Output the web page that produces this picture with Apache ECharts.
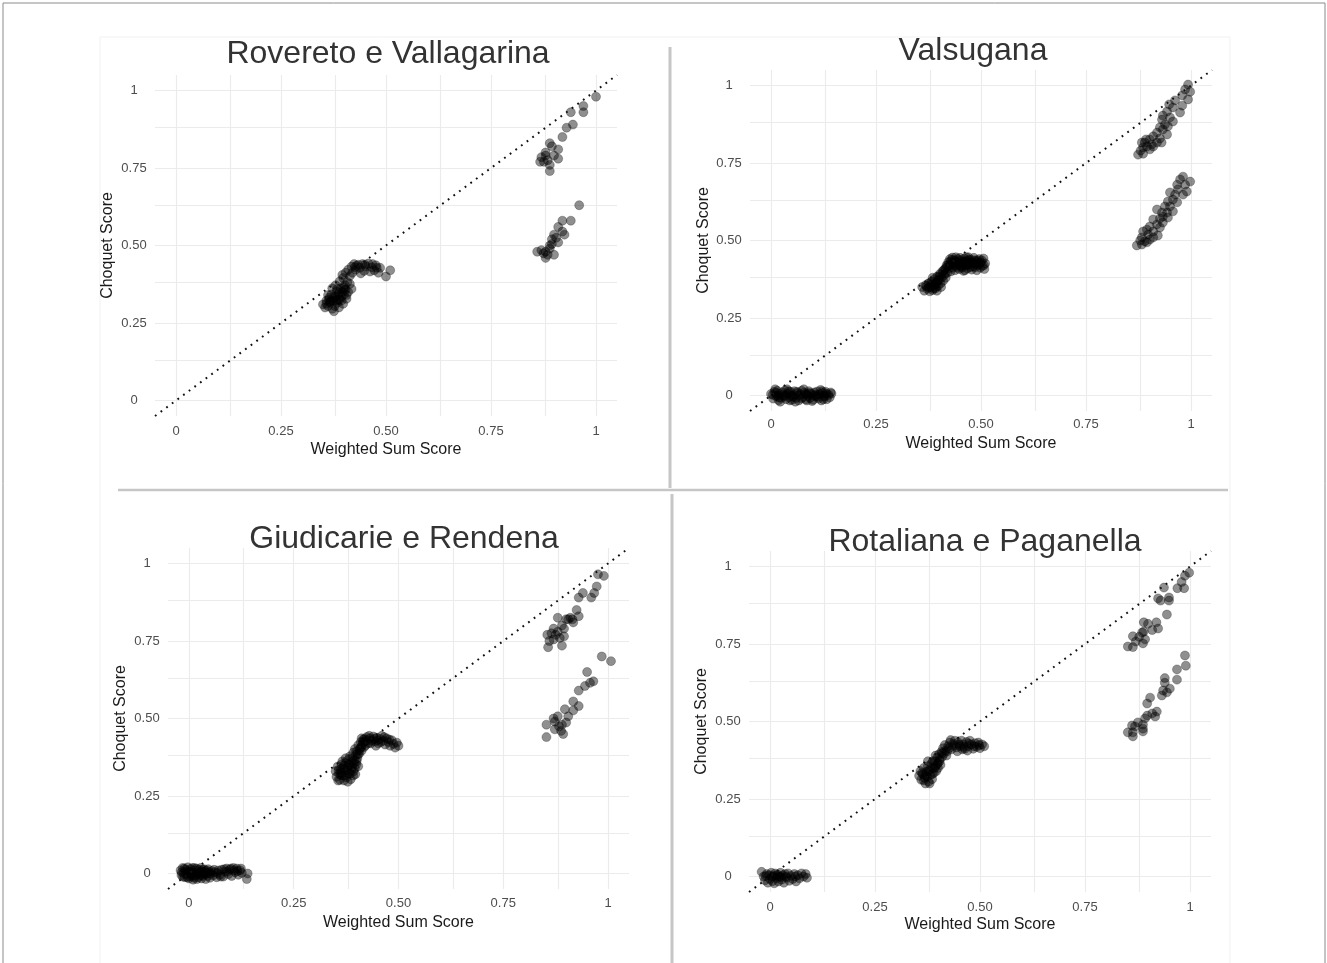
<!DOCTYPE html>
<html>
<head>
<meta charset="utf-8">
<script src="https://cdn.jsdelivr.net/npm/echarts@6/dist/echarts.min.js"></script>
<style>
html,body{margin:0;padding:0;background:#fff;}
#chart{width:1327px;height:963px;}
</style>
</head>
<body>
<div id="chart"></div>
<script>
// ---------- data ----------
const panelTitles = ['Rovereto e Vallagarina', 'Valsugana', 'Giudicarie e Rendena', 'Rotaliana e Paganella'];
const xAxisTitle = 'Weighted Sum Score';
const yAxisTitle = 'Choquet Score';
const majorTicks = [0, 0.25, 0.5, 0.75, 1];
const majorTickLabels = ['0', '0.25', '0.50', '0.75', '1'];
const minorTicks = [0.125, 0.375, 0.625, 0.875];
const diagonal = [[-0.05, -0.05], [1.05, 1.05]];

const rovereto = [
[0.350,0.310],[0.355,0.300],[0.358,0.322],[0.362,0.305],[0.365,0.332],[0.368,0.315],[0.370,0.342],[0.372,0.296],[0.375,0.322],[0.378,0.305],[0.380,0.335],[0.382,0.352],[0.384,0.315],[0.386,0.340],[0.388,0.300],[0.390,0.325],[0.392,0.362],[0.394,0.335],[0.396,0.350],[0.398,0.312],[0.400,0.342],[0.402,0.372],[0.404,0.358],[0.406,0.328],[0.408,0.382],[0.410,0.350],[0.362,0.340],[0.372,0.362],[0.380,0.372],[0.390,0.385],[0.398,0.395],[0.396,0.405],[0.404,0.412],[0.410,0.422],[0.414,0.402],[0.418,0.432],[0.420,0.412],[0.424,0.440],[0.428,0.422],[0.434,0.438],[0.438,0.428],[0.444,0.440],[0.448,0.418],[0.452,0.432],[0.458,0.442],[0.462,0.416],[0.466,0.430],[0.472,0.420],[0.476,0.436],[0.482,0.412],[0.486,0.428],[0.440,0.410],[0.430,0.435],[0.414,0.376],[0.418,0.360],[0.376,0.288],[0.366,0.318],[0.386,0.325],[0.400,0.365],[0.500,0.400],[0.510,0.420],
[0.358,0.312],[0.364,0.326],[0.370,0.322],[0.376,0.334],[0.382,0.322],[0.388,0.346],[0.394,0.322],[0.400,0.356],[0.406,0.340],[0.384,0.360],[0.426,0.430],[0.450,0.438],[0.468,0.440],[0.478,0.428],
[1.000,0.980],[0.970,0.950],[0.970,0.930],[0.940,0.930],[0.945,0.890],[0.930,0.880],[0.920,0.850],[0.890,0.830],[0.880,0.800],[0.910,0.810],[0.910,0.780],[0.867,0.770],[0.876,0.770],[0.890,0.760],[0.890,0.740],[0.900,0.790],[0.880,0.790],[0.895,0.820],[0.885,0.775],[0.870,0.785],
[0.960,0.630],[0.920,0.580],[0.940,0.580],[0.910,0.560],[0.920,0.545],[0.925,0.535],[0.900,0.535],[0.895,0.520],[0.890,0.500],[0.910,0.510],[0.860,0.480],[0.870,0.485],[0.880,0.480],[0.880,0.460],[0.900,0.470],[0.890,0.490],[0.895,0.505],[0.905,0.525],[0.885,0.470],[0.875,0.475]
];

const valsugana = [
[0.000,0.005],[0.005,-0.010],[0.008,0.012],[0.012,-0.002],[0.015,0.015],[0.018,-0.015],[0.020,0.004],[0.024,-0.008],[0.027,0.010],[0.030,-0.003],[0.033,0.016],[0.036,-0.012],[0.040,0.006],[0.043,-0.006],[0.046,0.012],[0.050,-0.014],[0.053,0.002],[0.056,0.014],[0.060,-0.008],[0.063,0.008],[0.066,-0.016],[0.070,0.003],[0.073,0.015],[0.076,-0.006],[0.080,0.010],[0.083,-0.012],[0.086,0.004],[0.090,0.014],[0.093,-0.008],[0.096,0.006],[0.100,-0.014],[0.103,0.010],[0.106,-0.003],[0.110,0.013],[0.113,-0.010],[0.116,0.004],[0.120,-0.016],[0.123,0.008],[0.126,-0.004],[0.130,0.012],[0.133,-0.012],[0.137,0.002],[0.140,-0.006],[0.144,0.006],[0.010,0.020],[0.022,-0.020],[0.038,0.020],[0.058,-0.020],[0.078,0.020],[0.098,-0.018],[0.118,0.018],[0.035,0.000],[0.065,0.000],[0.088,-0.002],[0.108,0.002],[0.128,0.000],[0.048,0.000],[0.015,0.000],
[0.004,0.002],[0.011,0.008],[0.019,-0.006],[0.028,0.002],[0.042,0.014],[0.052,-0.004],[0.062,0.012],[0.072,-0.010],[0.082,0.004],[0.092,0.008],[0.102,0.000],[0.112,-0.004],[0.122,0.014],[0.132,0.006],[0.142,0.010],[0.045,-0.016],[0.085,-0.016],[0.125,-0.012],
[0.360,0.350],[0.365,0.338],[0.368,0.356],[0.372,0.344],[0.375,0.362],[0.378,0.336],[0.380,0.350],[0.383,0.368],[0.385,0.340],[0.388,0.356],[0.390,0.376],[0.392,0.346],[0.394,0.364],[0.396,0.384],[0.398,0.354],[0.400,0.372],[0.402,0.392],[0.404,0.362],[0.406,0.380],[0.408,0.400],[0.410,0.370],[0.412,0.388],[0.414,0.408],[0.416,0.380],[0.418,0.420],[0.420,0.396],[0.422,0.430],[0.424,0.410],[0.426,0.440],[0.428,0.400],[0.430,0.424],[0.433,0.412],[0.436,0.436],[0.438,0.404],[0.440,0.446],[0.443,0.420],[0.446,0.432],[0.448,0.408],[0.450,0.444],[0.453,0.416],[0.456,0.430],[0.458,0.402],[0.460,0.442],[0.463,0.420],[0.466,0.434],[0.468,0.410],[0.470,0.446],[0.473,0.422],[0.476,0.438],[0.478,0.406],[0.480,0.428],[0.483,0.444],[0.486,0.414],[0.488,0.432],[0.490,0.404],[0.493,0.424],[0.496,0.440],[0.498,0.412],[0.500,0.430],[0.503,0.418],[0.506,0.442],[0.508,0.408],[0.510,0.426],[0.435,0.428],[0.445,0.440],[0.455,0.412],[0.465,0.446],[0.475,0.414],[0.485,0.436],[0.495,0.420],[0.425,0.420],[0.415,0.394],[0.405,0.350],[0.395,0.338],[0.385,0.380],[0.432,0.445],[0.462,0.404],[0.452,0.426],[0.442,0.414],[0.470,0.430],
[0.370,0.352],[0.376,0.348],[0.382,0.358],[0.387,0.345],[0.391,0.360],[0.397,0.372],[0.401,0.382],[0.407,0.392],[0.411,0.404],[0.417,0.412],[0.421,0.420],[0.427,0.432],[0.431,0.438],[0.437,0.420],[0.441,0.432],[0.447,0.424],[0.451,0.436],[0.457,0.420],[0.461,0.432],[0.467,0.422],[0.471,0.438],[0.477,0.428],[0.481,0.416],[0.487,0.424],[0.491,0.436],[0.497,0.428],[0.502,0.436],[0.507,0.420],[0.379,0.364],[0.393,0.352],
[0.993,1.003],[0.986,0.987],[0.998,0.980],[0.979,0.968],[0.993,0.955],[0.962,0.952],[0.948,0.939],[0.957,0.929],[0.979,0.935],[0.943,0.916],[0.974,0.913],[0.933,0.903],[0.950,0.897],[0.931,0.890],[0.957,0.884],[0.938,0.874],[0.945,0.868],[0.926,0.865],[0.933,0.858],[0.919,0.848],[0.943,0.842],[0.910,0.836],[0.926,0.829],[0.902,0.826],[0.893,0.826],[0.919,0.816],[0.890,0.816],[0.907,0.810],[0.930,0.816],[0.883,0.816],[0.886,0.800],[0.902,0.794],[0.910,0.803],[0.874,0.777],[0.886,0.780],[0.895,0.803],[0.880,0.790],
[0.981,0.706],[0.974,0.697],[0.998,0.690],[0.986,0.680],[0.967,0.680],[0.990,0.658],[0.969,0.665],[0.981,0.648],[0.962,0.648],[0.950,0.655],[0.957,0.632],[0.945,0.626],[0.967,0.623],[0.950,0.610],[0.938,0.610],[0.957,0.594],[0.943,0.590],[0.931,0.590],[0.919,0.600],[0.945,0.574],[0.926,0.571],[0.910,0.568],[0.933,0.558],[0.919,0.552],[0.902,0.545],[0.926,0.542],[0.895,0.535],[0.910,0.529],[0.886,0.529],[0.898,0.519],[0.921,0.516],[0.883,0.510],[0.902,0.503],[0.890,0.497],[0.879,0.500],[0.871,0.484],[0.883,0.487],[0.895,0.494],[0.910,0.510],[0.933,0.577]
];

const giudicarie = [
[-0.020,0.010],[-0.018,-0.005],[-0.015,0.018],[-0.012,0.002],[-0.010,-0.012],[-0.008,0.012],[-0.005,-0.002],[-0.003,0.020],[0.000,0.006],[0.002,-0.010],[0.004,0.014],[0.006,-0.004],[0.008,0.018],[0.010,0.002],[0.012,-0.014],[0.014,0.010],[0.016,-0.006],[0.018,0.016],[0.020,0.000],[0.022,-0.012],[0.024,0.012],[0.026,-0.004],[0.028,0.018],[0.030,-0.016],[0.032,0.006],[0.034,-0.008],[0.036,0.014],[0.038,-0.002],[0.040,-0.018],[0.042,0.010],[0.045,-0.008],[0.048,0.004],[0.050,-0.014],[0.054,0.008],[0.058,-0.006],[0.062,0.004],[0.066,-0.012],[0.070,0.010],[0.074,-0.004],[0.078,0.012],[0.082,-0.010],[0.086,0.006],[0.090,0.016],[0.094,-0.002],[0.098,0.012],[0.102,-0.008],[0.106,0.018],[0.110,0.004],[0.114,0.016],[0.118,-0.004],[0.122,0.010],[0.126,0.002],[0.140,0.000],[0.138,-0.018],[-0.006,0.006],[0.005,0.000],[0.015,0.004],[0.025,0.006],[0.035,0.002],[0.044,0.000],[-0.014,-0.010],[0.000,-0.016],[0.010,-0.020],
[-0.017,0.004],[-0.011,0.016],[-0.004,-0.012],[0.003,0.004],[0.009,-0.008],[0.013,0.018],[0.019,-0.018],[0.023,0.004],[0.029,-0.006],[0.033,0.012],[0.039,0.006],[0.046,0.014],[0.052,0.000],[0.060,0.012],[0.068,0.002],[0.076,-0.010],[0.084,0.014],[0.092,0.006],[0.100,0.016],[0.108,0.010],[0.116,0.008],[0.124,0.016],
[0.350,0.330],[0.352,0.312],[0.355,0.345],[0.358,0.322],[0.360,0.302],[0.362,0.336],[0.364,0.352],[0.366,0.316],[0.368,0.340],[0.370,0.300],[0.372,0.326],[0.374,0.356],[0.376,0.310],[0.378,0.342],[0.380,0.366],[0.382,0.322],[0.384,0.350],[0.386,0.304],[0.388,0.334],[0.390,0.372],[0.392,0.316],[0.394,0.356],[0.396,0.340],[0.398,0.382],[0.400,0.362],[0.356,0.300],[0.366,0.362],[0.384,0.378],[0.392,0.390],[0.396,0.402],[0.400,0.394],[0.404,0.414],[0.406,0.386],[0.408,0.404],[0.410,0.424],[0.412,0.396],[0.414,0.416],[0.416,0.432],[0.418,0.408],[0.420,0.426],[0.424,0.440],[0.428,0.420],[0.432,0.436],[0.436,0.428],[0.440,0.442],[0.444,0.426],[0.448,0.438],[0.452,0.420],[0.456,0.434],[0.460,0.444],[0.464,0.428],[0.468,0.416],[0.472,0.436],[0.476,0.424],[0.480,0.412],[0.484,0.430],[0.488,0.418],[0.492,0.406],[0.496,0.422],[0.500,0.412],[0.402,0.372],[0.388,0.360],[0.374,0.372],[0.362,0.318],[0.379,0.296],[0.397,0.320],[0.404,0.346],[0.412,0.436],[0.422,0.414],[0.430,0.444],[0.446,0.412],[0.458,0.424],
[0.357,0.334],[0.363,0.326],[0.369,0.348],[0.373,0.316],[0.377,0.334],[0.381,0.352],[0.385,0.322],[0.389,0.344],[0.393,0.330],[0.395,0.366],[0.399,0.352],[0.403,0.384],[0.407,0.398],[0.411,0.408],[0.415,0.424],[0.419,0.434],[0.426,0.430],[0.434,0.420],[0.442,0.434],[0.450,0.430],[0.466,0.440],[0.478,0.432],
[0.990,0.960],[0.976,0.965],[0.973,0.926],[0.967,0.905],[0.960,0.890],[0.940,0.905],[0.930,0.890],
[0.925,0.850],[0.915,0.820],[0.930,0.830],[0.900,0.820],[0.880,0.825],[0.917,0.810],[0.870,0.790],[0.890,0.800],[0.855,0.770],[0.870,0.755],[0.885,0.760],[0.895,0.765],[0.880,0.780],[0.857,0.730],[0.890,0.735],[0.875,0.770],[0.865,0.775],[0.905,0.820],[0.910,0.825],[0.895,0.790],[0.860,0.750],
[0.985,0.700],[1.007,0.685],[0.950,0.650],[0.965,0.620],[0.957,0.615],[0.945,0.605],[0.930,0.590],[0.917,0.555],[0.930,0.540],[0.917,0.526],[0.897,0.530],[0.880,0.507],[0.905,0.507],[0.853,0.480],[0.873,0.490],[0.890,0.480],[0.873,0.465],[0.893,0.450],[0.853,0.440],[0.883,0.475],[0.900,0.487],[0.870,0.500],[0.888,0.460]
];

const rotaliana = [
[-0.020,0.015],[-0.015,0.000],[-0.012,-0.012],[-0.008,0.008],[-0.005,-0.020],[-0.002,0.004],[0.000,-0.008],[0.003,0.012],[0.006,-0.015],[0.008,0.002],[0.010,-0.022],[0.012,0.010],[0.015,-0.006],[0.018,0.006],[0.020,-0.016],[0.022,0.000],[0.025,0.012],[0.028,-0.010],[0.030,0.004],[0.033,-0.020],[0.036,0.008],[0.040,-0.004],[0.043,0.010],[0.046,-0.014],[0.050,0.002],[0.054,-0.008],[0.058,0.008],[0.062,-0.016],[0.066,0.004],[0.070,-0.006],[0.075,0.010],[0.080,0.000],[0.085,0.008],[0.088,-0.004],[0.005,0.000],[0.016,0.002],[0.026,-0.002],[0.038,0.000],[-0.010,0.002],[0.060,0.000],
[0.355,0.325],[0.358,0.340],[0.360,0.312],[0.364,0.330],[0.366,0.350],[0.368,0.318],[0.370,0.300],[0.372,0.338],[0.374,0.322],[0.376,0.356],[0.378,0.306],[0.380,0.344],[0.382,0.328],[0.384,0.364],[0.386,0.314],[0.388,0.350],[0.390,0.334],[0.392,0.372],[0.394,0.356],[0.396,0.340],[0.398,0.384],[0.400,0.366],[0.402,0.394],[0.404,0.378],[0.406,0.360],[0.408,0.402],[0.410,0.386],[0.412,0.414],[0.414,0.396],[0.416,0.424],[0.418,0.406],[0.420,0.390],[0.424,0.420],[0.428,0.432],[0.432,0.410],[0.436,0.428],[0.440,0.438],[0.444,0.416],[0.448,0.432],[0.452,0.420],[0.456,0.438],[0.460,0.426],[0.464,0.412],[0.468,0.434],[0.472,0.420],[0.476,0.438],[0.480,0.426],[0.484,0.412],[0.488,0.430],[0.492,0.418],[0.496,0.432],[0.500,0.414],[0.505,0.426],[0.510,0.420],[0.380,0.300],[0.366,0.310],[0.388,0.372],[0.400,0.350],[0.430,0.440],[0.446,0.404],[0.458,0.410],[0.470,0.406],[0.376,0.372],[0.394,0.390],[0.422,0.404],
[0.362,0.334],[0.370,0.326],[0.378,0.340],[0.386,0.330],[0.392,0.350],[0.398,0.362],[0.404,0.372],[0.410,0.398],[0.426,0.414],[0.438,0.422],[0.450,0.426],[0.462,0.418],[0.474,0.428],[0.486,0.420],[0.498,0.424],
[0.998,0.980],[0.988,0.970],[0.980,0.950],[0.970,0.930],[0.986,0.930],[0.938,0.932],[0.950,0.900],[0.950,0.890],[0.924,0.897],[0.930,0.890],[0.945,0.845],
[0.890,0.820],[0.900,0.815],[0.920,0.820],[0.924,0.800],[0.910,0.795],[0.886,0.787],[0.890,0.790],[0.893,0.765],[0.864,0.775],[0.871,0.758],[0.852,0.742],[0.864,0.740],[0.888,0.752],[0.879,0.773],
[0.988,0.713],[0.990,0.680],[0.969,0.668],[0.969,0.635],[0.940,0.640],[0.940,0.625],[0.952,0.606],[0.936,0.600],[0.945,0.594],[0.933,0.584],[0.905,0.577],[0.898,0.558],[0.921,0.532],[0.910,0.526],[0.898,0.519],[0.917,0.516],[0.876,0.497],[0.888,0.490],[0.893,0.510],[0.862,0.487],[0.869,0.484],[0.852,0.465],[0.864,0.452],[0.888,0.468],[0.888,0.477],[0.864,0.465]
];

const panelData = [rovereto, valsugana, giudicarie, rotaliana];

// ---------- layout (pixels) ----------
const gridBoxes = [
  {left: 155, top: 75, width: 462, height: 341, title: [388, 54], xNameGap: 26, yNameGap: 39},
  {left: 750, top: 70, width: 462, height: 341, title: [973, 51], xNameGap: 25, yNameGap: 38},
  {left: 168, top: 548, width: 461, height: 341, title: [404, 539], xNameGap: 26, yNameGap: 39},
  {left: 749, top: 551, width: 462, height: 341, title: [985, 542], xNameGap: 25, yNameGap: 39}
];
const xLabelMargins = [9, 7, 8, 9];

const FONT = '"Liberation Sans", Arial, Helvetica, sans-serif';
const labelFmt = v => {
  const i = majorTicks.findIndex(t => Math.abs(t - v) < 1e-9);
  return i >= 0 ? majorTickLabels[i] : '';
};

const grids = [], xAxes = [], yAxes = [], series = [], graphics = [];

gridBoxes.forEach((g, i) => {
  grids.push({left: g.left, top: g.top, width: g.width, height: g.height, containLabel: false});
  xAxes.push({
    gridIndex: i, type: 'value', min: -0.05, max: 1.05,
    axisLine: {show: false}, axisTick: {show: false, customValues: majorTicks},
    splitLine: {show: false},
    axisLabel: {customValues: majorTicks, formatter: labelFmt, color: '#4d4d4d', fontSize: 13, margin: xLabelMargins[i], fontFamily: FONT},
    name: xAxisTitle, nameLocation: 'middle', nameGap: g.xNameGap,
    nameTextStyle: {fontSize: 16, color: '#1a1a1a', fontFamily: FONT}
  });
  yAxes.push({
    gridIndex: i, type: 'value', min: -0.05, max: 1.05,
    axisLine: {show: false}, axisTick: {show: false, customValues: majorTicks},
    splitLine: {show: false},
    axisLabel: {customValues: majorTicks, formatter: labelFmt, color: '#4d4d4d', fontSize: 13, margin: 21, align: 'center', fontFamily: FONT},
    name: yAxisTitle, nameLocation: 'middle', nameGap: g.yNameGap, nameRotate: 90,
    nameTextStyle: {fontSize: 16, color: '#1a1a1a', fontFamily: FONT}
  });
  // gridlines (major + minor) through the axis scales
  const lines = [];
  majorTicks.concat(minorTicks).forEach(v => { lines.push({xAxis: v}); lines.push({yAxis: v}); });
  series.push({
    type: 'line', xAxisIndex: i, yAxisIndex: i, data: [], z: 1, silent: true,
    markLine: {
      z: 1, silent: true, symbol: ['none', 'none'], label: {show: false}, animation: false,
      lineStyle: {type: 'solid', color: '#ebebeb', width: 1.1}, emphasis: {disabled: true},
      data: lines
    }
  });
  series.push({
    type: 'scatter', xAxisIndex: i, yAxisIndex: i, data: panelData[i], z: 3,
    symbol: 'circle', symbolSize: 9, animation: false, silent: true,
    itemStyle: {color: 'rgba(0,0,0,0.55)', borderColor: 'rgba(0,0,0,0.4)', borderWidth: 0.8}
  });
  series.push({
    type: 'line', xAxisIndex: i, yAxisIndex: i, data: diagonal, z: 4,
    symbol: 'none', silent: true, animation: false,
    lineStyle: {color: '#111', width: 2, type: [1.8, 5.2]}
  });
  graphics.push({
    type: 'text', x: g.title[0], y: g.title[1], silent: true,
    style: {text: panelTitles[i], font: '32px ' + FONT, fill: '#333', textAlign: 'center', textVerticalAlign: 'middle'}
  });
});

// frame and dividers
graphics.unshift(
  {type: 'rect', shape: {x: 3, y: 3, width: 1322, height: 965}, style: {fill: 'none', stroke: '#8a8a8a', lineWidth: 1}, silent: true},
  {type: 'rect', shape: {x: 100, y: 37, width: 1130, height: 940}, style: {fill: 'none', stroke: '#f1f1f1', lineWidth: 1}, silent: true},
  {type: 'line', shape: {x1: 670, y1: 47, x2: 670, y2: 488}, style: {stroke: '#c6c6c6', lineWidth: 3}, silent: true},
  {type: 'line', shape: {x1: 672, y1: 494, x2: 672, y2: 963}, style: {stroke: '#c6c6c6', lineWidth: 3}, silent: true},
  {type: 'line', shape: {x1: 118, y1: 490, x2: 1228, y2: 490}, style: {stroke: '#c6c6c6', lineWidth: 2.5}, silent: true}
);

const chart = echarts.init(document.getElementById('chart'), null, {renderer: 'canvas'});
chart.setOption({
  backgroundColor: '#ffffff',
  animation: false,
  grid: grids, xAxis: xAxes, yAxis: yAxes, series: series,
  graphic: graphics
});
</script>
</body>
</html>
